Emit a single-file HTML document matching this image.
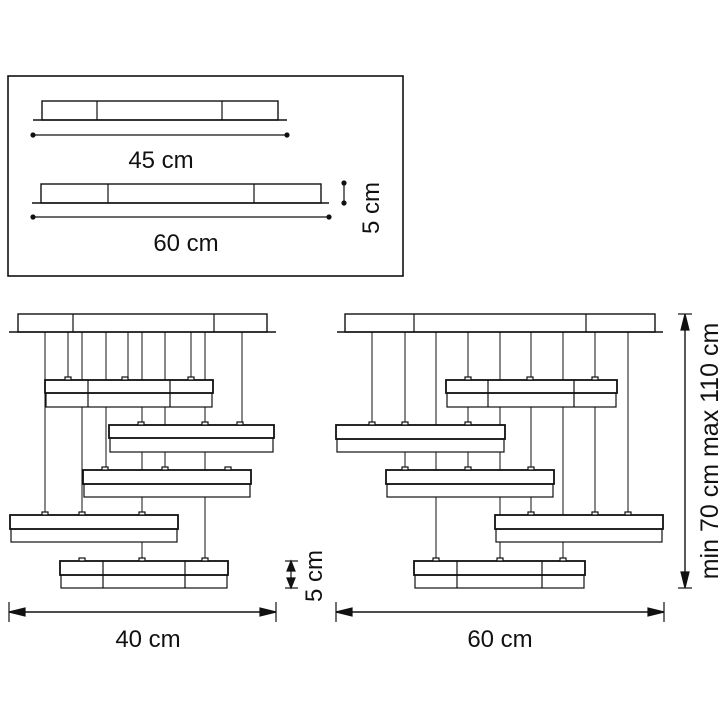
<!DOCTYPE html>
<html><head><style>body{margin:0;background:#fff}svg{display:block}text{font-family:"Liberation Sans",sans-serif;fill:#111}</style></head><body>
<svg width="719" height="720" viewBox="0 0 719 720" xmlns="http://www.w3.org/2000/svg" stroke="#111" fill="none" stroke-width="1.2">
<rect x="8" y="76" width="395" height="200" stroke-width="1.6"/>
<rect x="42" y="101" width="236" height="19" stroke-width="1.4"/>
<line x1="33" y1="120" x2="287" y2="120" stroke-width="1.6"/>
<line x1="97" y1="101" x2="97" y2="120"/><line x1="222" y1="101" x2="222" y2="120"/>
<line x1="33" y1="135" x2="287" y2="135"/><circle cx="33" cy="135" r="2" fill="#111"/><circle cx="287" cy="135" r="2" fill="#111"/>
<text x="161" y="168" font-size="24" text-anchor="middle" stroke="none">45 cm</text>
<rect x="41" y="184" width="280" height="19" stroke-width="1.4"/>
<line x1="32" y1="203" x2="329" y2="203" stroke-width="1.6"/>
<line x1="108" y1="184" x2="108" y2="203"/><line x1="254" y1="184" x2="254" y2="203"/>
<line x1="33" y1="217" x2="329" y2="217"/><circle cx="33" cy="217" r="2" fill="#111"/><circle cx="329" cy="217" r="2" fill="#111"/>
<text x="186" y="251" font-size="24" text-anchor="middle" stroke="none">60 cm</text>
<line x1="344" y1="183" x2="344" y2="203"/><circle cx="344" cy="183" r="2" fill="#111"/><circle cx="344" cy="203" r="2" fill="#111"/>
<text transform="translate(379,208) rotate(-90)" font-size="24" text-anchor="middle" stroke="none">5 cm</text>

<g stroke-width="1">
<line x1="45" y1="332" x2="45" y2="515"/><line x1="68" y1="332" x2="68" y2="380"/><line x1="82" y1="332" x2="82" y2="515"/>
<line x1="106" y1="332" x2="106" y2="470"/><line x1="128" y1="332" x2="128" y2="380"/><line x1="142" y1="332" x2="142" y2="561"/>
<line x1="165" y1="332" x2="165" y2="470"/><line x1="191" y1="332" x2="191" y2="380"/><line x1="205" y1="332" x2="205" y2="561"/>
<line x1="242" y1="332" x2="242" y2="425"/>
</g>
<rect x="18" y="314" width="249" height="18" fill="#fff" stroke-width="1.4"/>
<line x1="73" y1="314" x2="73" y2="332"/><line x1="214" y1="314" x2="214" y2="332"/>
<line x1="9" y1="332" x2="276" y2="332" stroke-width="1.6"/>
<g fill="#fff">
<rect x="46" y="393" width="166" height="14"/><rect x="45" y="380" width="168" height="13" stroke-width="1.8"/>
<rect x="110" y="438" width="163" height="14"/><rect x="109" y="425" width="165" height="13" stroke-width="1.8"/>
<rect x="84" y="484" width="166" height="13"/><rect x="83" y="470" width="168" height="14" stroke-width="1.8"/>
<rect x="11" y="529" width="166" height="13"/><rect x="10" y="515" width="168" height="14" stroke-width="1.8"/>
<rect x="61" y="575" width="166" height="13"/><rect x="60" y="561" width="168" height="14" stroke-width="1.8"/>
</g>
<line x1="88" y1="380" x2="88" y2="407"/><line x1="170" y1="380" x2="170" y2="407"/>
<line x1="103" y1="561" x2="103" y2="588"/><line x1="185" y1="561" x2="185" y2="588"/>
<g fill="#fff">
<rect x="65" y="377" width="6" height="3"/><rect x="122" y="377" width="6" height="3"/><rect x="188" y="377" width="6" height="3"/>
<rect x="138" y="422" width="6" height="3"/><rect x="202" y="422" width="6" height="3"/><rect x="237" y="422" width="6" height="3"/>
<rect x="102" y="467" width="6" height="3"/><rect x="162" y="467" width="6" height="3"/><rect x="225" y="467" width="6" height="3"/>
<rect x="42" y="512" width="6" height="3"/><rect x="79" y="512" width="6" height="3"/><rect x="139" y="512" width="6" height="3"/>
<rect x="79" y="558" width="6" height="3"/><rect x="139" y="558" width="6" height="3"/><rect x="202" y="558" width="6" height="3"/>
</g>

<g stroke-width="1">
<line x1="372" y1="332" x2="372" y2="425"/><line x1="405" y1="332" x2="405" y2="470"/><line x1="436" y1="332" x2="436" y2="561"/>
<line x1="468" y1="332" x2="468" y2="470"/><line x1="500" y1="332" x2="500" y2="561"/><line x1="531" y1="332" x2="531" y2="515"/>
<line x1="563" y1="332" x2="563" y2="561"/><line x1="595" y1="332" x2="595" y2="515"/><line x1="628" y1="332" x2="628" y2="515"/>
</g>
<rect x="345" y="314" width="310" height="18" fill="#fff" stroke-width="1.4"/>
<line x1="414" y1="314" x2="414" y2="332"/><line x1="586" y1="314" x2="586" y2="332"/>
<line x1="337" y1="332" x2="663" y2="332" stroke-width="1.6"/>
<g fill="#fff">
<rect x="447" y="393" width="169" height="14"/><rect x="446" y="380" width="171" height="13" stroke-width="1.8"/>
<rect x="337" y="439" width="167" height="13"/><rect x="336" y="425" width="169" height="14" stroke-width="1.8"/>
<rect x="387" y="484" width="166" height="13"/><rect x="386" y="470" width="168" height="14" stroke-width="1.8"/>
<rect x="496" y="529" width="166" height="13"/><rect x="495" y="515" width="168" height="14" stroke-width="1.8"/>
<rect x="415" y="575" width="169" height="13"/><rect x="414" y="561" width="171" height="14" stroke-width="1.8"/>
</g>
<line x1="488" y1="380" x2="488" y2="407"/><line x1="574" y1="380" x2="574" y2="407"/>
<line x1="457" y1="561" x2="457" y2="588"/><line x1="542" y1="561" x2="542" y2="588"/>
<g fill="#fff">
<rect x="465" y="377" width="6" height="3"/><rect x="527" y="377" width="6" height="3"/><rect x="592" y="377" width="6" height="3"/>
<rect x="369" y="422" width="6" height="3"/><rect x="402" y="422" width="6" height="3"/><rect x="465" y="422" width="6" height="3"/>
<rect x="402" y="467" width="6" height="3"/><rect x="465" y="467" width="6" height="3"/><rect x="528" y="467" width="6" height="3"/>
<rect x="528" y="512" width="6" height="3"/><rect x="592" y="512" width="6" height="3"/><rect x="625" y="512" width="6" height="3"/>
<rect x="433" y="558" width="6" height="3"/><rect x="497" y="558" width="6" height="3"/><rect x="560" y="558" width="6" height="3"/>
</g>

<line x1="685" y1="320" x2="685" y2="582" stroke-width="1.4"/>
<line x1="678" y1="314" x2="692" y2="314"/><line x1="678" y1="588" x2="692" y2="588"/>
<polygon points="685,314 681,330 689,330" fill="#111"/><polygon points="685,588 681,572 689,572" fill="#111"/>
<text transform="translate(718,451) rotate(-90)" font-size="25" text-anchor="middle" stroke="none">min 70 cm max 110 cm</text>

<line x1="285" y1="561" x2="298" y2="561"/><line x1="285" y1="588" x2="298" y2="588"/>
<line x1="291" y1="561" x2="291" y2="588"/>
<polygon points="291,561 287,571 295,571" fill="#111"/><polygon points="291,588 287,578 295,578" fill="#111"/>
<text transform="translate(322,576) rotate(-90)" font-size="24" text-anchor="middle" stroke="none">5 cm</text>

<line x1="9" y1="602" x2="9" y2="622"/><line x1="276" y1="602" x2="276" y2="622"/>
<line x1="9" y1="612" x2="276" y2="612" stroke-width="1.4"/>
<polygon points="9,612 25,608 25,616" fill="#111"/><polygon points="276,612 260,608 260,616" fill="#111"/>
<text x="148" y="647" font-size="24" text-anchor="middle" stroke="none">40 cm</text>

<line x1="336" y1="602" x2="336" y2="622"/><line x1="664" y1="602" x2="664" y2="622"/>
<line x1="336" y1="612" x2="664" y2="612" stroke-width="1.4"/>
<polygon points="336,612 352,608 352,616" fill="#111"/><polygon points="664,612 648,608 648,616" fill="#111"/>
<text x="500" y="647" font-size="24" text-anchor="middle" stroke="none">60 cm</text>
</svg>
</body></html>
